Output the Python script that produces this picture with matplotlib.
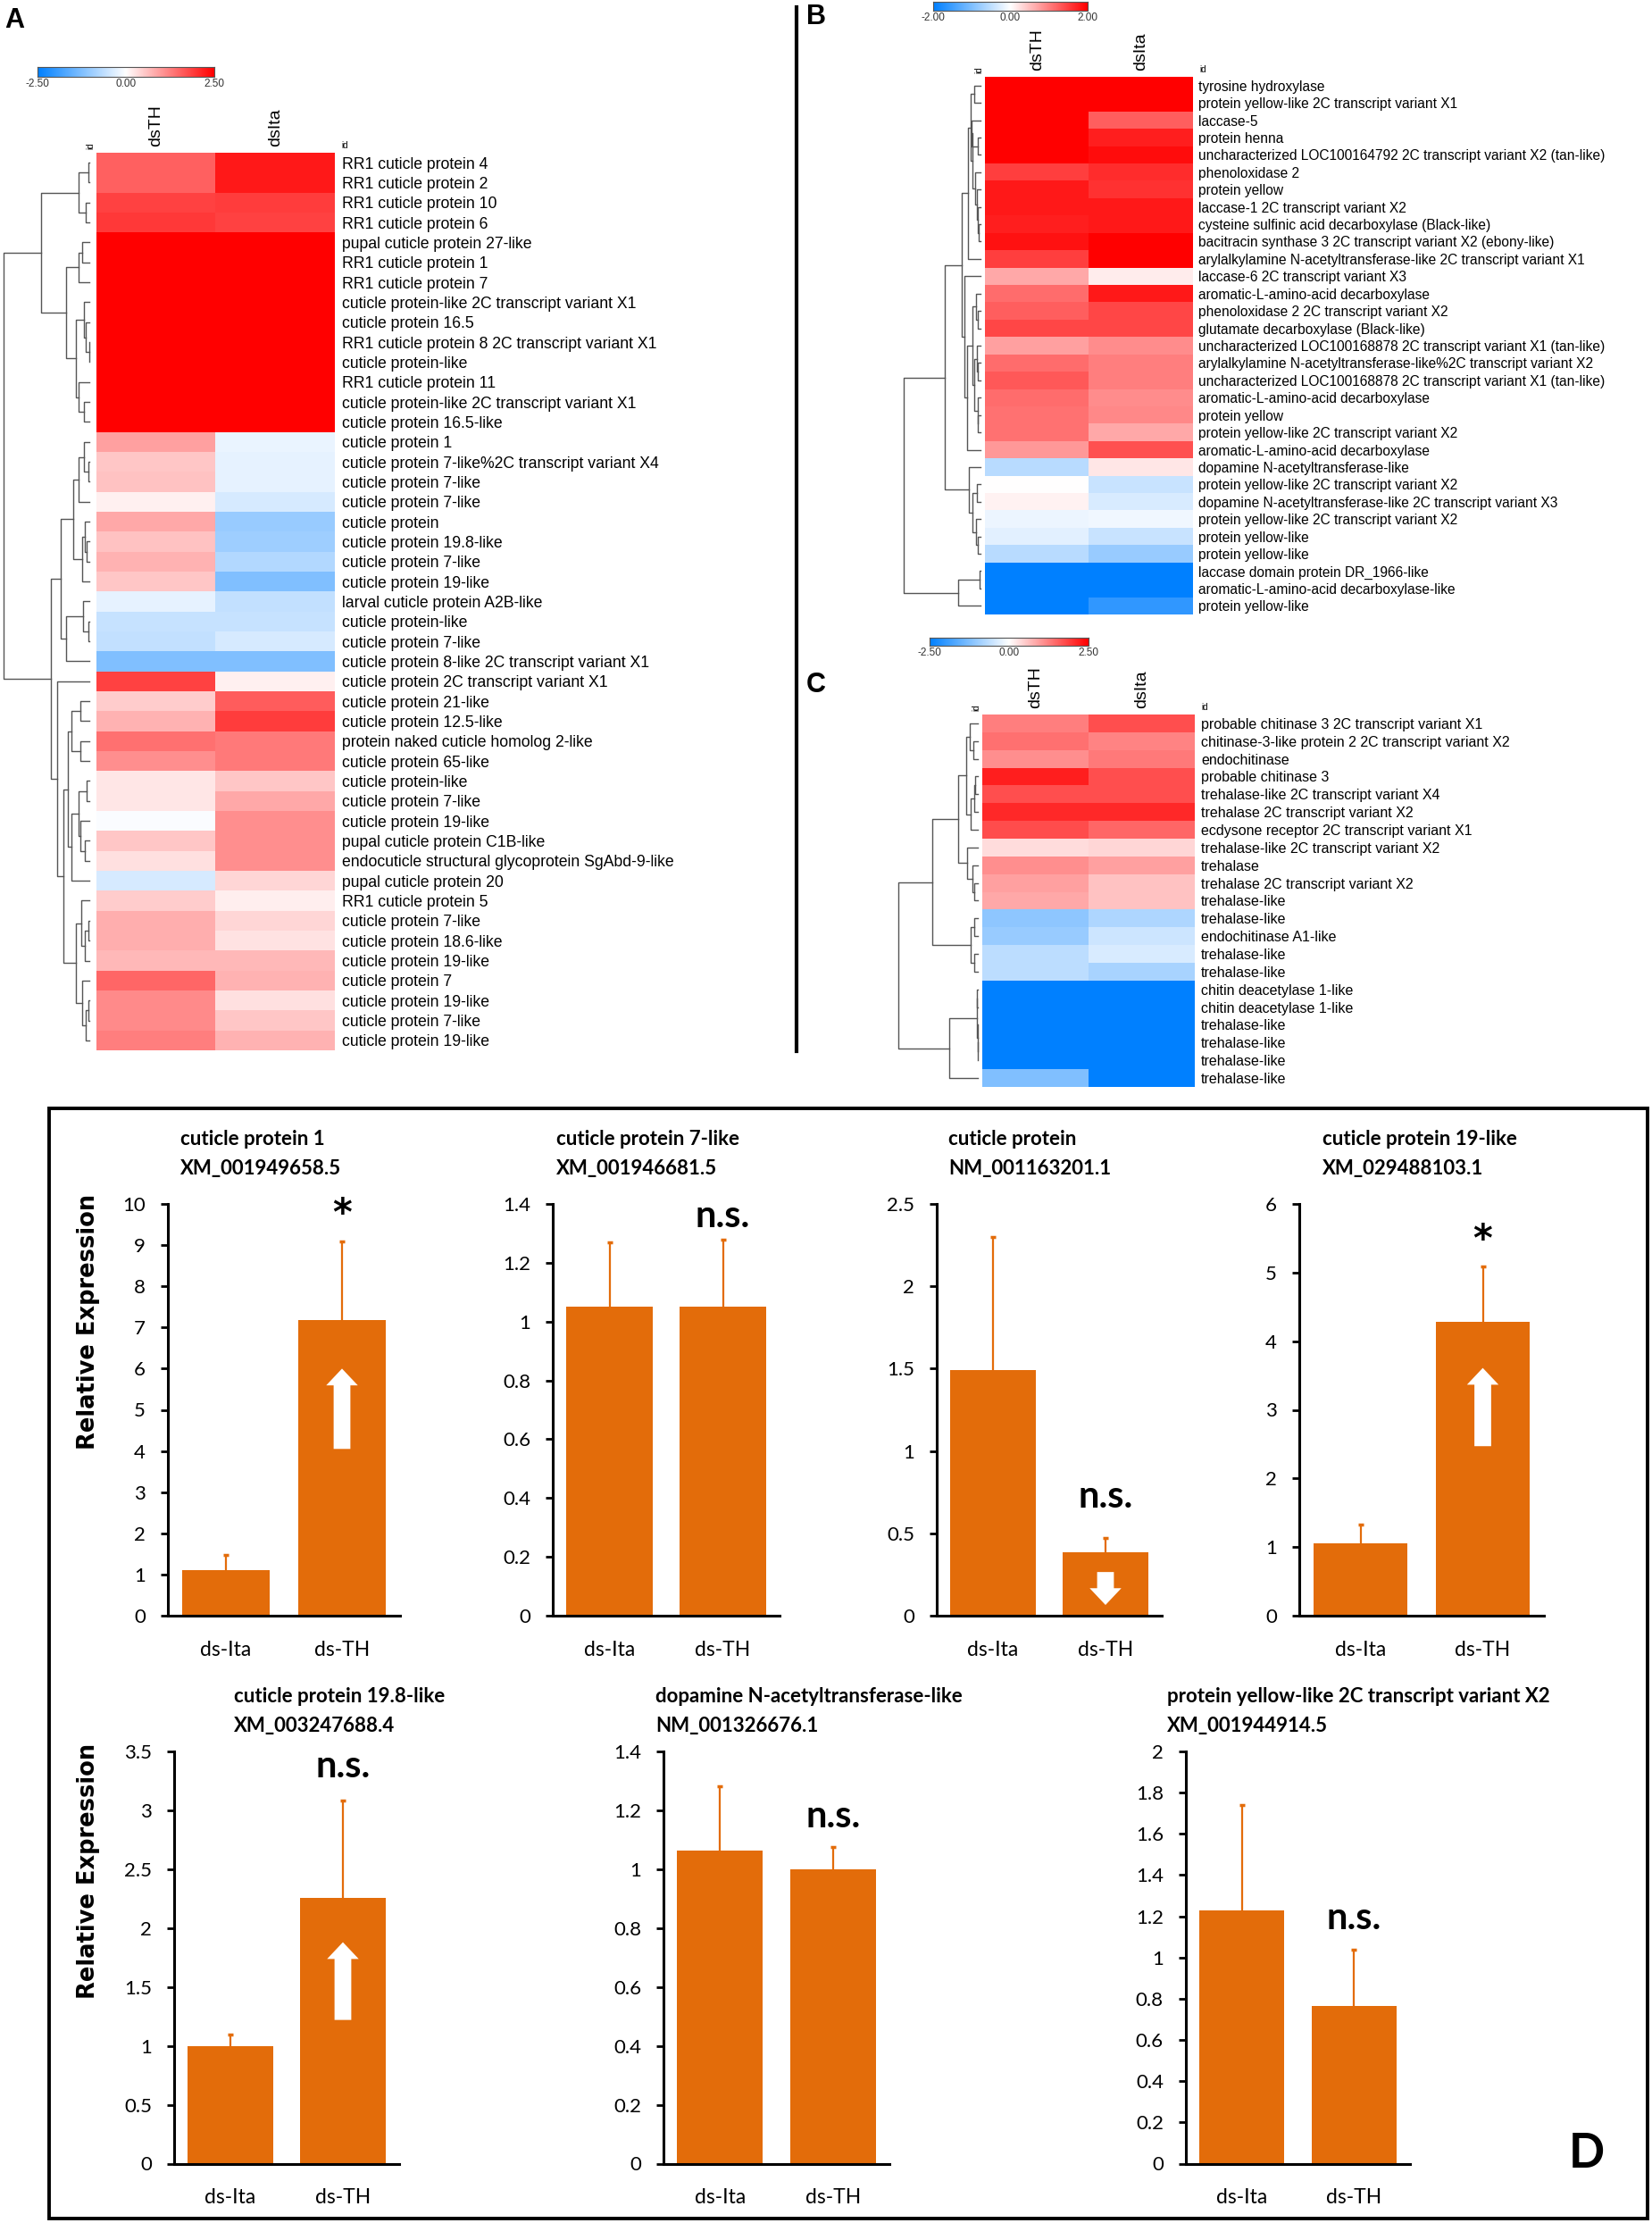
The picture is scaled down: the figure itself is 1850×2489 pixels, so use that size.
import numpy as np
import matplotlib
matplotlib.use("Agg")
import matplotlib.pyplot as plt
from matplotlib.colors import LinearSegmentedColormap
from matplotlib.lines import Line2D
from matplotlib.patches import Rectangle

W, H = 1850, 2489

# ---------------- panel A : cuticle protein genes ----------------
a_genes = [
    "RR1 cuticle protein 4", "RR1 cuticle protein 2", "RR1 cuticle protein 10",
    "RR1 cuticle protein 6", "pupal cuticle protein 27-like", "RR1 cuticle protein 1",
    "RR1 cuticle protein 7", "cuticle protein-like 2C transcript variant X1",
    "cuticle protein 16.5", "RR1 cuticle protein 8 2C transcript variant X1",
    "cuticle protein-like", "RR1 cuticle protein 11",
    "cuticle protein-like 2C transcript variant X1", "cuticle protein 16.5-like",
    "cuticle protein 1", "cuticle protein 7-like%2C transcript variant X4",
    "cuticle protein 7-like", "cuticle protein 7-like", "cuticle protein",
    "cuticle protein 19.8-like", "cuticle protein 7-like", "cuticle protein 19-like",
    "larval cuticle protein A2B-like", "cuticle protein-like", "cuticle protein 7-like",
    "cuticle protein 8-like 2C transcript variant X1",
    "cuticle protein 2C transcript variant X1", "cuticle protein 21-like",
    "cuticle protein 12.5-like", "protein naked cuticle homolog 2-like",
    "cuticle protein 65-like", "cuticle protein-like", "cuticle protein 7-like",
    "cuticle protein 19-like", "pupal cuticle protein C1B-like",
    "endocuticle structural glycoprotein SgAbd-9-like", "pupal cuticle protein 20",
    "RR1 cuticle protein 5", "cuticle protein 7-like", "cuticle protein 18.6-like",
    "cuticle protein 19-like", "cuticle protein 7", "cuticle protein 19-like",
    "cuticle protein 7-like", "cuticle protein 19-like",
]
a_dsTH = [1.55, 1.55, 1.85, 1.95, 2.5, 2.5, 2.5, 2.5, 2.5, 2.5, 2.5, 2.5, 2.5, 2.5,
          0.93, 0.55, 0.6, 0.15, 0.85, 0.6, 0.75, 0.55, -0.25, -0.55, -0.6, -1.25,
          1.85, 0.5, 0.75, 1.4, 1.1, 0.25, 0.25, -0.05, 0.55, 0.3, -0.4,
          0.5, 0.8, 0.8, 0.7, 1.5, 1.15, 1.15, 1.25]
a_dsIta = [2.25, 2.25, 1.9, 1.85, 2.5, 2.5, 2.5, 2.5, 2.5, 2.5, 2.5, 2.5, 2.5, 2.5,
           -0.2, -0.25, -0.25, -0.4, -1.0, -0.95, -0.75, -1.25, -0.6, -0.55, -0.4, -1.25,
           0.15, 1.6, 1.9, 1.3, 1.3, 0.55, 0.85, 1.1, 1.1, 1.1, 0.4,
           0.17, 0.4, 0.28, 0.7, 0.75, 0.3, 0.55, 0.75]
# dendrogram: (merge height, left, right), leaves are row indices
a_tree = (1.0,
          (0.56,
           (0.13, (0.006, 0, 1), (0.04, 2, 3)),
           (0.27, (0.12, (0.08, 4, 5), 6),
            (0.16, (0.06, 7, (0.04, 8, (0.005, 9, 10))), (0.13, 11, (0.06, 12, 13))))),
          (0.45,
           (0.33,
            (0.19, (0.13, (0.06, 14, (0.01, 15, 16)), 17), (0.08, (0.05, 18, (0.03, 19, 20)), 21)),
            (0.27, (0.07, 22, (0.01, 23, 24)), 25)),
           (0.37, 26,
            (0.30,
             (0.25, (0.21, (0.1, 27, 28), (0.1, 29, 30)),
              (0.21, (0.12, (0.03, 31, 32), (0.1, 33, (0.05, 34, 35))), 36)),
             (0.16, (0.09, 37, (0.05, (0.01, 38, 39), 40)),
              (0.08, 41, (0.04, (0.01, 42, 43), 44)))))))

# ---------------- panel B : pigmentation genes ----------------
b_genes = [
    "tyrosine hydroxylase", "protein yellow-like 2C transcript variant X1", "laccase-5",
    "protein henna", "uncharacterized LOC100164792 2C transcript variant X2 (tan-like)",
    "phenoloxidase 2", "protein yellow", "laccase-1 2C transcript variant X2",
    "cysteine sulfinic acid decarboxylase (Black-like)",
    "bacitracin synthase 3 2C transcript variant X2 (ebony-like)",
    "arylalkylamine N-acetyltransferase-like 2C transcript variant X1",
    "laccase-6 2C transcript variant X3", "aromatic-L-amino-acid decarboxylase",
    "phenoloxidase 2 2C transcript variant X2", "glutamate decarboxylase (Black-like)",
    "uncharacterized LOC100168878 2C transcript variant X1 (tan-like)",
    "arylalkylamine N-acetyltransferase-like%2C transcript variant X2",
    "uncharacterized LOC100168878 2C transcript variant X1 (tan-like)",
    "aromatic-L-amino-acid decarboxylase", "protein yellow",
    "protein yellow-like 2C transcript variant X2", "aromatic-L-amino-acid decarboxylase",
    "dopamine N-acetyltransferase-like", "protein yellow-like 2C transcript variant X2",
    "dopamine N-acetyltransferase-like 2C transcript variant X3",
    "protein yellow-like 2C transcript variant X2", "protein yellow-like",
    "protein yellow-like", "laccase domain protein DR_1966-like",
    "aromatic-L-amino-acid decarboxylase-like", "protein yellow-like",
]
b_dsTH = [2.0, 2.0, 2.0, 2.0, 2.0, 1.5, 1.8, 1.8, 1.75, 1.85, 1.5,
          0.68, 1.15, 1.25, 1.45, 0.74, 1.15, 1.3, 1.15, 1.1, 1.1, 0.8,
          -0.56, 0.0, 0.1, -0.15, -0.22, -0.56, -2.0, -2.0, -2.0]
b_dsIta = [2.0, 2.0, 1.25, 1.75, 1.9, 1.65, 1.6, 1.8, 1.8, 2.0, 2.0,
           0.15, 1.8, 1.45, 1.45, 0.9, 1.0, 1.0, 0.9, 0.93, 0.68, 1.37,
           0.2, -0.43, -0.3, -0.12, -0.43, -0.8, -2.0, -2.0, -1.62]
b_tree = (1.0,
          (0.47,
           (0.24,
            (0.16, (0.13, (0.08, 0, 1),
                    (0.1, (0.12, 2, (0.04, 3, 4)), (0.07, 5, (0.05, 6, (0.03, 7, (0.02, 8, 9)))))), 10),
            (0.21, 11, (0.18, (0.1, (0.06, 12, (0.04, 13, 14)),
                               (0.08, (0.05, 15, (0.03, 16, 17)), (0.04, 18, (0.03, 19, 20)))), 21))),
           (0.15, 22, (0.1, (0.05, 23, 24), (0.06, 25, (0.04, 26, 27))))),
          (0.29, (0.01, 28, 29), 30))

# ---------------- panel C : chitin / trehalose genes ----------------
c_genes = [
    "probable chitinase 3 2C transcript variant X1",
    "chitinase-3-like protein 2 2C transcript variant X2", "endochitinase",
    "probable chitinase 3", "trehalase-like 2C transcript variant X4",
    "trehalase 2C transcript variant X2", "ecdysone receptor 2C transcript variant X1",
    "trehalase-like 2C transcript variant X2", "trehalase",
    "trehalase 2C transcript variant X2", "trehalase-like", "trehalase-like",
    "endochitinase A1-like", "trehalase-like", "trehalase-like",
    "chitin deacetylase 1-like", "chitin deacetylase 1-like", "trehalase-like",
    "trehalase-like", "trehalase-like", "trehalase-like",
]
c_dsTH = [1.25, 1.4, 1.1, 2.2, 1.72, 2.1, 1.75, 0.35, 1.1, 0.93, 0.85,
          -1.1, -1.0, -0.65, -0.65, -2.5, -2.5, -2.5, -2.5, -2.5, -1.25]
c_dsIta = [1.72, 1.2, 1.3, 1.72, 1.72, 2.1, 1.5, 0.4, 0.93, 0.6, 0.6,
           -0.8, -0.5, -0.38, -0.85, -2.5, -2.5, -2.5, -2.5, -2.5, -2.5]
c_tree = (1.0,
          (0.57,
           (0.25, (0.15, (0.1, 0, (0.06, 1, 2)), (0.09, (0.05, (0.03, 3, 4), 5), 6)),
            (0.13, 7, (0.07, 8, (0.04, 9, 10)))),
           (0.09, (0.04, 11, 12), (0.05, 13, 14))),
          (0.36, (0.008, (0.006, 15, 16), (0.004, 17, (0.002, 18, 19))), 20))

# ---------------- panel D : qPCR ----------------
d_genes = ["cuticle protein 1", "cuticle protein 7-like", "cuticle protein",
           "cuticle protein 19-like", "cuticle protein 19.8-like",
           "dopamine N-acetyltransferase-like", "protein yellow-like 2C transcript variant X2"]
d_acc = ["XM_001949658.5", "XM_001946681.5", "NM_001163201.1", "XM_029488103.1",
         "XM_003247688.4", "NM_001326676.1", "XM_001944914.5"]
d_groups = ["ds-Ita", "ds-TH"]
d_mean = [[1.10, 7.17], [1.05, 1.05], [1.49, 0.385], [1.057, 4.285],
          [1.0, 2.255], [1.063, 1.0], [1.227, 0.765]]
d_err = [[0.38, 1.92], [0.22, 0.23], [0.81, 0.085], [0.276, 0.80],
         [0.096, 0.825], [0.22, 0.075], [0.515, 0.272]]
d_ymax = [10, 1.4, 2.5, 6, 3.5, 1.4, 2]
d_ystep = [1, 0.2, 0.5, 1, 0.5, 0.2, 0.2]
d_sig = ["*", "n.s.", "n.s.", "*", "n.s.", "n.s.", "n.s."]
d_sig_y = [9.75, 1.357, 0.72, 5.47, 3.37, 1.18, 1.19]
d_arrow = [(4.05, 6.0), None, (0.265, 0.065), (2.47, 3.61), (1.22, 1.88), None, None]

ORANGE = "#E36C0A"
cmap = LinearSegmentedColormap.from_list("bwr2", ["#0080FF", "#FFFFFF", "#FF0000"])
HM_FONT = "Liberation Sans"


def px(x0, y0, x1, y1):
    return [x0 / W, 1 - y1 / H, (x1 - x0) / W, (y1 - y0) / H]


fig = plt.figure(figsize=(W / 100, H / 100), dpi=100)
fig.patch.set_facecolor("white")


def draw_tree(ax, node):
    if isinstance(node, int):
        return node, 0.0
    h, left, right = node
    yl, hl = draw_tree(ax, left)
    yr, hr = draw_tree(ax, right)
    ax.plot([hl, h, h, hr], [yl, yl, yr, yr], color="#555555", lw=1.0, clip_on=False)
    return (yl + yr) / 2, h


def heatmap(hm_box, dendro_box, genes, th, ita, tree, vmax, fs, pad):
    n = len(genes)
    ax = fig.add_axes(px(*hm_box))
    data = np.column_stack([th, ita])
    ax.imshow(data, cmap=cmap, vmin=-vmax, vmax=vmax, aspect="auto", interpolation="nearest")
    ax.set_xticks([])
    ax.set_yticks(range(n))
    ax.set_yticklabels(genes, fontsize=fs, family=HM_FONT)
    ax.yaxis.tick_right()
    ax.tick_params(axis="y", length=0, pad=pad)
    for s in ax.spines.values():
        s.set_visible(False)
    for j, name in enumerate(["dsTH", "dsIta"]):
        ax.annotate(name, xy=(j, -0.5), xytext=(0, 5), textcoords="offset points",
                    rotation=90, ha="center", va="bottom", fontsize=14, family=HM_FONT)
    ax.annotate("id", xy=(-0.5, -0.5), xytext=(-5, 3), textcoords="offset points",
                rotation=90, ha="center", va="bottom", fontsize=7, family=HM_FONT)
    ax.annotate("id", xy=(1.5, -0.5), xytext=(5, 2), textcoords="offset points",
                ha="left", va="bottom", fontsize=7, family=HM_FONT)

    dax = fig.add_axes(px(*dendro_box))
    draw_tree(dax, tree)
    dax.set_xlim(1.0, 0.0)
    dax.set_ylim(n - 0.5, -0.5)
    dax.axis("off")


def colorbar(box, vmax):
    ax = fig.add_axes(px(*box))
    grad = np.linspace(-vmax, vmax, 256)[None, :]
    ax.imshow(grad, cmap=cmap, vmin=-vmax, vmax=vmax, aspect="auto",
              extent=(-vmax, vmax, 0, 1))
    ax.set_yticks([])
    ax.set_xticks([-vmax, 0, vmax])
    ax.set_xticklabels([f"{-vmax:.2f}", "0.00", f"{vmax:.2f}"], fontsize=8.5,
                       family=HM_FONT, color="#333333")
    ax.tick_params(axis="x", length=0, pad=1.5)
    for s in ax.spines.values():
        s.set_linewidth(0.8)
        s.set_color("#555555")


# panel A
colorbar((42, 75, 240, 86), 2.5)
heatmap((108, 171, 375, 1176), (4, 171, 100, 1176), a_genes, a_dsTH, a_dsIta, a_tree,
        2.5, 12.7, 5.5)
# panel B
colorbar((1045, 2, 1218, 12), 2.0)
heatmap((1103, 86, 1336, 688), (1012, 86, 1098, 688), b_genes, b_dsTH, b_dsIta, b_tree,
        2.0, 11.2, 4.3)
# panel C
colorbar((1041, 714, 1219, 723), 2.5)
heatmap((1100, 800, 1338, 1217), (1006, 800, 1095, 1217), c_genes, c_dsTH, c_dsIta, c_tree,
        2.5, 11.5, 5)

for lab, x, y in [("A", 5, 8), ("B", 903, 4), ("C", 903, 752)]:
    fig.text(x / W, 1 - y / H, lab, fontsize=22, fontweight="bold", family=HM_FONT,
             ha="left", va="top")
fig.add_artist(Line2D([892 / W, 892 / W], [1 - 8 / H, 1 - 1177 / H], color="black", lw=3))

# panel D frame
fig.add_artist(Rectangle((55 / W, 1 - 2484 / H), (1845 - 55) / W, (2484 - 1241) / H,
                         transform=fig.transFigure, fill=False, ec="black", lw=2.8))

bar_boxes = [(188, 1348, 448, 1809), (619, 1348, 873, 1809), (1049, 1348, 1301, 1809),
             (1455, 1348, 1729, 1809), (195, 1961, 447, 2422.5), (743, 1961, 996, 2422.5),
             (1328, 1961, 1579, 2422.5)]
title_xy = [(202, 1276), (623, 1276), (1062, 1276), (1481, 1276),
            (262, 1899), (734, 1899), (1307, 1899)]

for i in range(7):
    ax = fig.add_axes(px(*bar_boxes[i]))
    xs = np.arange(2)
    ax.bar(xs, d_mean[i], width=0.76, color=ORANGE, zorder=2)
    _, caps, _ = ax.errorbar(xs, d_mean[i], yerr=[[0, 0], d_err[i]], fmt="none",
                             ecolor=ORANGE, elinewidth=1.6, capsize=2.5, capthick=2.5,
                             zorder=1)
    caps[0].set_visible(False)  # no cap at the bar top
    ax.set_xlim(-0.5, 1.5)
    ax.set_ylim(0, d_ymax[i])
    ticks = np.round(np.arange(0, d_ymax[i] + d_ystep[i] / 2, d_ystep[i]), 2)
    ax.set_yticks(ticks)
    ax.set_yticklabels([f"{t:g}" for t in ticks], fontsize=16, family="Lato")
    ax.set_xticks(xs)
    ax.set_xticklabels(d_groups, fontsize=16.5, family="Lato")
    ax.tick_params(axis="y", direction="out", length=6, width=2, pad=12)
    ax.tick_params(axis="x", length=0, pad=20)
    for s in ["top", "right"]:
        ax.spines[s].set_visible(False)
    for s in ["left", "bottom"]:
        ax.spines[s].set_linewidth(2.2)
    ax.spines["left"].set_bounds(0, d_ymax[i])
    if d_sig[i] == "*":
        ax.text(1, d_sig_y[i], "*", ha="center", va="center", fontsize=30,
                fontweight="bold", family="DejaVu Sans")
    else:
        ax.text(1, d_sig_y[i], d_sig[i], ha="center", va="center", fontsize=30,
                fontweight="bold", family="Lato")
    if d_arrow[i] is not None:
        y0, y1 = d_arrow[i]
        ax.annotate("", xy=(1, y1), xytext=(1, y0),
                    arrowprops=dict(arrowstyle="simple,head_length=0.45,head_width=0.85,tail_width=0.45",
                                    fc="white", ec="none", mutation_scale=30,
                                    shrinkA=0, shrinkB=0), zorder=3)
    tx, ty = title_xy[i]
    fig.text(tx / W, 1 - ty / H, d_genes[i], fontsize=16, fontweight="bold", family="Lato",
             ha="left", va="center")
    fig.text(tx / W, 1 - (ty + 33) / H, d_acc[i], fontsize=16, fontweight="bold", family="Lato",
             ha="left", va="center")

for y in [1480, 2095]:
    fig.text(99 / W, 1 - y / H, "Relative Expression", rotation=90, fontsize=18.5,
             fontweight="bold", family="DejaVu Sans", ha="center", va="center")

fig.text(1757 / W, 1 - 2427 / H, "D", fontsize=38, fontweight="bold", family="Lato",
         ha="left", va="baseline")

fig.savefig("out.png", dpi=100, facecolor="white")
